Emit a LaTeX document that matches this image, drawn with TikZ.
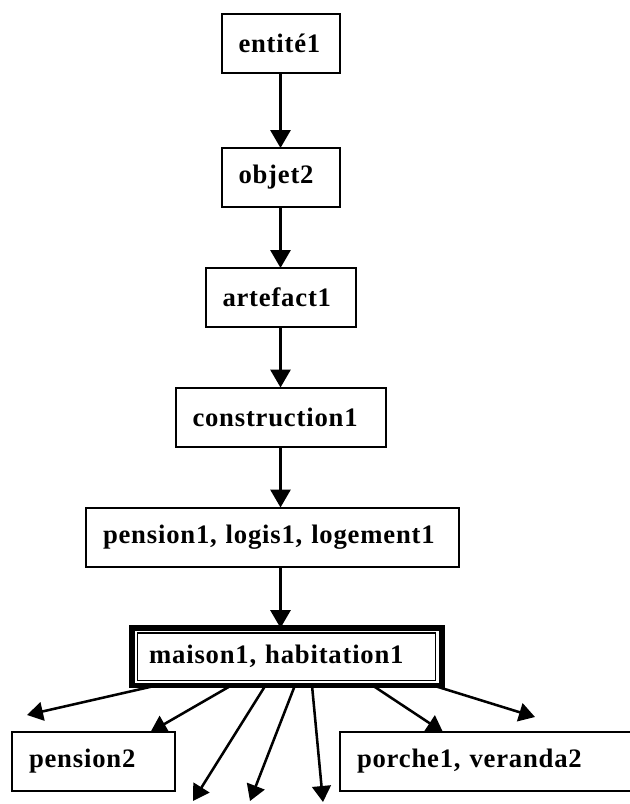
\documentclass[tikz,border=0pt]{standalone}
\usepackage{fontspec}
\setmainfont{Liberation Serif}[LetterSpace=3]
\usetikzlibrary{arrows.meta, calc}

\tikzset{
  cadre/.style={draw, line width=1.5pt, outer sep=0pt, inner xsep=12.75pt, inner ysep=0pt,
    align=left, minimum height=44.25pt, font=\fontsize{20}{24}\selectfont\bfseries},
  lien/.style={line width=2.3pt, -{Triangle[length=13.5pt,width=15pt]}},
  rayon/.style={line width=1.9pt, -{Triangle[length=12pt,width=14pt]}}
}

\begin{document}
\begin{tikzpicture}[x=0.75pt, y=-0.75pt]
\useasboundingbox (0,0) rectangle (629,804);

% chaine des hyperonymes
\node[cadre, text width=63pt] (entite) at (280.5,43) {entité1};
\node[cadre, text width=63pt] (objet) at (280.5,177.5) {objet2};
\node[cadre, text width=87pt] (artefact) at (280.5,297.5) {artefact1};
\node[cadre, text width=132pt] (constr) at (280.5,417) {construction1};
\node[cadre, text width=254.25pt] (pension) at (272.5,537) {pension1, logis1, logement1};

% noeud central, double cadre
\node[cadre, line width=4.3pt, text width=207pt, minimum height=43pt] (maison) at (287.2,656.7) {maison1, habitation1};
\draw[line width=0.9pt] ([shift={(5.3,5)}]maison.north west) rectangle ([shift={(-6.5,-5)}]maison.south east);

% hyponymes
\node[cadre, text width=96.75pt] (pension2) at (93.5,761.5) {pension2};
\node[cadre, text width=199.5pt] (porche) at (490,761.5) {porche1, veranda2};

\draw[lien] (entite) -- (objet);
\draw[lien] (objet) -- (artefact);
\draw[lien] (artefact) -- (constr);
\draw[lien] (constr) -- (constr |- pension.north);
\draw[lien] (constr |- pension.south) -- (constr |- maison.north);

% fleches vers le bas
\coordinate (f1) at (27,715);
\coordinate (f3) at (193,801);
\coordinate (f4) at (250,801);
\coordinate (f5) at (323,802);
\coordinate (f7) at (535,717);

\draw[rayon] ($(maison.south west)!0.08!(maison.south east)$) -- (f1);
\draw[rayon] ($(maison.south west)!0.32!(maison.south east)$) -- ($(pension2.north west)!0.85!(pension2.north east)$);
\draw[rayon] ($(maison.south west)!0.43!(maison.south east)$) -- (f3);
\draw[rayon] ($(maison.south west)!0.525!(maison.south east)$) -- (f4);
\draw[rayon] ($(maison.south west)!0.58!(maison.south east)$) -- (f5);
\draw[rayon] ($(maison.south west)!0.775!(maison.south east)$) -- ($(porche.north west)!0.343!(porche.north east)$);
\draw[rayon] ($(maison.south west)!0.97!(maison.south east)$) -- (f7);
\end{tikzpicture}
\end{document}
